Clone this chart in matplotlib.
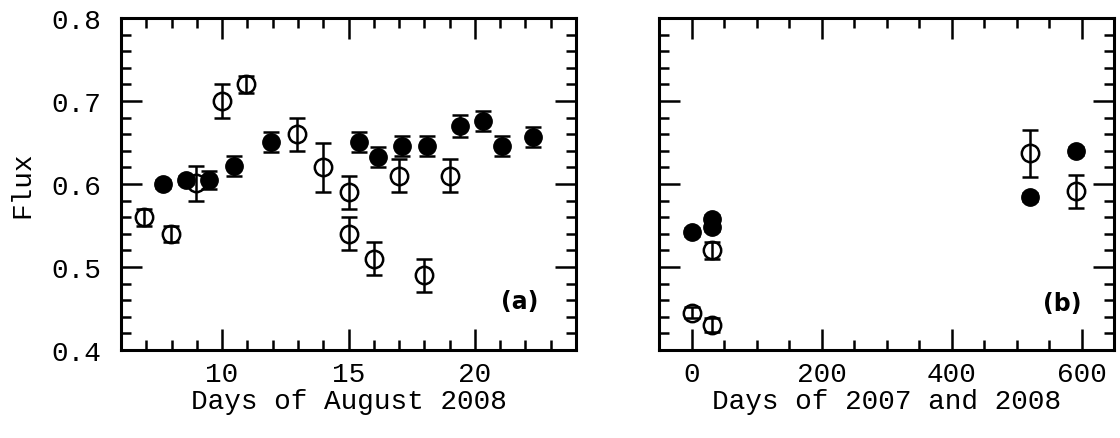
import matplotlib
matplotlib.use("Agg")
import matplotlib.pyplot as plt
from matplotlib.ticker import MultipleLocator

# ---- Panel (a): days of August 2008 ----
a_filled_day = [7.67, 8.59, 9.49, 10.46, 11.95, 15.41, 16.17, 17.11, 18.12, 19.40, 20.32, 21.07, 22.29]
a_filled_flux = [0.600, 0.605, 0.605, 0.622, 0.651, 0.651, 0.633, 0.646, 0.646, 0.670, 0.676, 0.646, 0.657]
a_filled_err = [0.005, 0.005, 0.011, 0.012, 0.012, 0.012, 0.012, 0.012, 0.012, 0.013, 0.012, 0.012, 0.012]

a_open_day = [6.9, 7.96, 8.96, 9.98, 10.96, 12.97, 14.0, 15.0, 15.0, 16.0, 17.0, 18.0, 19.0]
a_open_flux = [0.560, 0.540, 0.601, 0.700, 0.720, 0.660, 0.620, 0.590, 0.540, 0.510, 0.610, 0.490, 0.610]
a_open_err = [0.010, 0.010, 0.021, 0.020, 0.010, 0.020, 0.030, 0.020, 0.020, 0.020, 0.020, 0.020, 0.020]

# ---- Panel (b): days of 2007 and 2008 ----
b_filled_day = [0, 32, 32, 521, 592]
b_filled_flux = [0.542, 0.558, 0.548, 0.584, 0.640]
b_filled_err = [0.005, 0.005, 0.005, 0.005, 0.005]

b_open_day = [0, 32, 32, 521, 592]
b_open_flux = [0.445, 0.430, 0.520, 0.637, 0.591]
b_open_err = [0.007, 0.008, 0.010, 0.028, 0.020]

a_xticks = [10, 15, 20]
b_xticks = [0, 200, 400, 600]
y_ticks = [0.4, 0.5, 0.6, 0.7, 0.8]

FONT = "Liberation Mono"
plt.rcParams['font.family'] = [FONT, 'DejaVu Sans']

fig = plt.figure(figsize=(11.2, 4.39), dpi=100)
axA = fig.add_axes([121/1120, 88/439, 455/1120, 332/439])
axB = fig.add_axes([659/1120, 88/439, 455/1120, 332/439])

ms = 12.5
eb_kw = dict(capsize=6, elinewidth=1.8, capthick=1.8, color='black', linestyle='none')

for ax, fd, ff, fe, od, of, oe in [
    (axA, a_filled_day, a_filled_flux, a_filled_err, a_open_day, a_open_flux, a_open_err),
    (axB, b_filled_day, b_filled_flux, b_filled_err, b_open_day, b_open_flux, b_open_err),
]:
    ax.errorbar(fd, ff, yerr=fe, fmt='o', markersize=ms, markerfacecolor='black',
                markeredgecolor='black', **eb_kw)
    ax.errorbar(od, of, yerr=oe, fmt='o', markersize=ms, markerfacecolor='none',
                markeredgecolor='black', markeredgewidth=1.8, **eb_kw)
    ax.set_ylim(0.4, 0.8)
    ax.yaxis.set_minor_locator(MultipleLocator(0.02))
    ax.set_yticks(y_ticks)
    for s in ax.spines.values():
        s.set_linewidth(2.2)
    ax.tick_params(which='both', direction='in', top=True, right=True, width=1.8)
    ax.tick_params(which='major', length=15, labelsize=20)
    ax.tick_params(axis='x', which='major', pad=8)
    ax.tick_params(axis='y', which='major', pad=14)
    ax.tick_params(which='minor', length=7)

axA.set_xlim(6, 24)
axA.set_xticks(a_xticks)
axA.xaxis.set_minor_locator(MultipleLocator(1))
axA.set_yticklabels([f"{v:.1f}" for v in y_ticks])
axA.set_xlabel("Days of August 2008", fontsize=20, labelpad=1)
axA.set_ylabel("Flux", fontsize=20, labelpad=12)
axA.text(21.77, 0.459, "(a)", fontsize=17, fontweight='bold', family='DejaVu Sans',
         ha='center', va='center')

axB.set_xlim(-50, 650)
axB.set_xticks(b_xticks)
axB.xaxis.set_minor_locator(MultipleLocator(50))
axB.tick_params(labelleft=False)
axB.set_xlabel("Days of 2007 and 2008", fontsize=20, labelpad=1)
axB.text(570, 0.457, "(b)", fontsize=17, fontweight='bold', family='DejaVu Sans',
         ha='center', va='center')

fig.savefig("out.png", dpi=100)
